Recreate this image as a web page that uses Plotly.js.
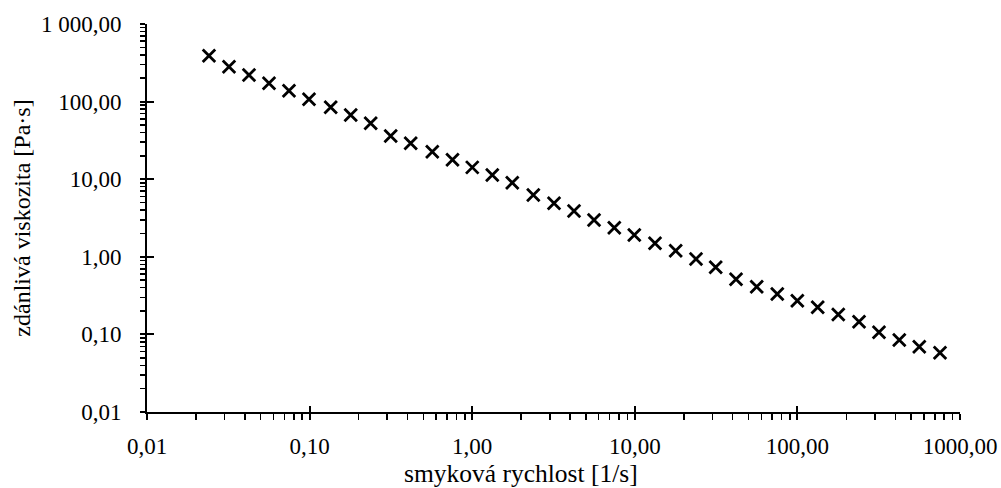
<!DOCTYPE html>
<html>
<head>
<meta charset="utf-8">
<script src="https://cdn.plot.ly/plotly-3.0.1.min.js"></script>
<style>html,body{margin:0;padding:0;background:#fff;}#chart{width:1001px;height:488px;}</style>
</head>
<body>
<div id="chart"></div>
<script>
// shear rate [1/s]
var shearRate = [0.02405, 0.03194, 0.04239, 0.05627, 0.07468, 0.09915, 0.1348, 0.1790, 0.2375, 0.3153,
  0.4185, 0.5683, 0.7565, 1.001, 1.329, 1.764, 2.376, 3.185, 4.228, 5.613,
  7.479, 9.93, 13.31, 17.84, 23.79, 31.44, 41.93, 56.2, 75.2, 99.9,
  133.3, 178.4, 239.3, 317.5, 423.3, 561.8, 753.4];
// apparent viscosity [Pa·s]
var viscosity = [390.4, 281.6, 220.2, 172.1, 138.2, 107.1, 84.4, 67.2, 52.5, 36.0,
  29.0, 22.6, 17.8, 14.2, 11.3, 9.01, 6.26, 4.89, 3.89, 2.98,
  2.37, 1.91, 1.49, 1.198, 0.937, 0.732, 0.513, 0.412, 0.332, 0.272,
  0.2234, 0.1805, 0.1458, 0.1064, 0.0847, 0.0694, 0.0581];

var xTickVals = [0.01, 0.1, 1, 10, 100, 1000];
var xTickText = ["0,01", "0,10", "1,00", "10,00", "100,00", "1000,00"];
var yTickVals = [0.01, 0.1, 1, 10, 100, 1000];
var yTickText = ["0,01", "0,10", "1,00", "10,00", "100,00", "1 000,00"];
var xTitle = "smyková rychlost [1/s]";
var yTitle = "zdánlivá viskozita [Pa·s]";

var minorVals = [];
for (var e = -2; e < 3; e++) {
  for (var m = 2; m <= 9; m++) minorVals.push(m * Math.pow(10, e));
}

var fontFam = "Liberation Serif, Times New Roman, serif";

var trace = {
  x: shearRate, y: viscosity,
  type: "scatter", mode: "markers",
  marker: {symbol: "x-thin-open", size: 12.5, color: "#000", line: {color: "#000", width: 2.8}},
  hoverinfo: "x+y", showlegend: false
};
var ghost = {
  x: shearRate, y: viscosity, xaxis: "x2", yaxis: "y2",
  type: "scatter", mode: "markers",
  marker: {opacity: 0}, hoverinfo: "skip", showlegend: false
};

var layout = {
  width: 1001, height: 488,
  margin: {l: 147, r: 41, t: 24, b: 76},
  paper_bgcolor: "#fff", plot_bgcolor: "#fff",
  font: {family: fontFam, color: "#000", size: 23},
  xaxis: {
    type: "log", range: [-2, 3],
    tickmode: "array", tickvals: xTickVals, ticktext: xTickText,
    ticks: "outside", ticklen: 6, tickwidth: 2, tickcolor: "#000",
    showline: true, linecolor: "#000", linewidth: 2,
    showgrid: false, zeroline: false,
    tickfont: {family: fontFam, size: 23, color: "#000"},
    ticklabelstandoff: 6,
    minor: {tickmode: "array", tickvals: minorVals, ticks: "outside", ticklen: 6, tickwidth: 1.5, tickcolor: "#000", showgrid: false},
    automargin: false
  },
  yaxis: {
    type: "log", range: [-2, 3],
    tickmode: "array", tickvals: yTickVals, ticktext: yTickText,
    ticks: "outside", ticklen: 5, tickwidth: 2, tickcolor: "#000",
    showline: true, linecolor: "#000", linewidth: 2,
    showgrid: false, zeroline: false,
    tickfont: {family: fontFam, size: 23, color: "#000"},
    ticklabelstandoff: 14,
    minor: {tickmode: "array", tickvals: minorVals, ticks: "outside", ticklen: 5, tickwidth: 1.5, tickcolor: "#000", showgrid: false},
    title: {text: yTitle, font: {family: fontFam, size: 24, color: "#000"}, standoff: 4},
    automargin: false
  },
  xaxis2: {
    type: "log", range: [-2, 3], overlaying: "x", anchor: "y",
    tickmode: "array", tickvals: xTickVals, showticklabels: false,
    ticks: "inside", ticklen: 6, tickwidth: 2, tickcolor: "#000",
    showline: false, showgrid: false, zeroline: false
  },
  yaxis2: {
    type: "log", range: [-2, 3], overlaying: "y", anchor: "x",
    tickmode: "array", tickvals: yTickVals, showticklabels: false,
    ticks: "inside", ticklen: 7, tickwidth: 2, tickcolor: "#000",
    showline: false, showgrid: false, zeroline: false
  },
  annotations: [{
    text: xTitle, xref: "paper", yref: "paper", x: 0.46, y: 0,
    xanchor: "center", yanchor: "middle", yshift: -61, showarrow: false,
    font: {family: fontFam, size: 25.5, color: "#000"}
  }]
};

Plotly.newPlot("chart", [ghost, trace], layout, {displayModeBar: false, staticPlot: true});
</script>
</body>
</html>
